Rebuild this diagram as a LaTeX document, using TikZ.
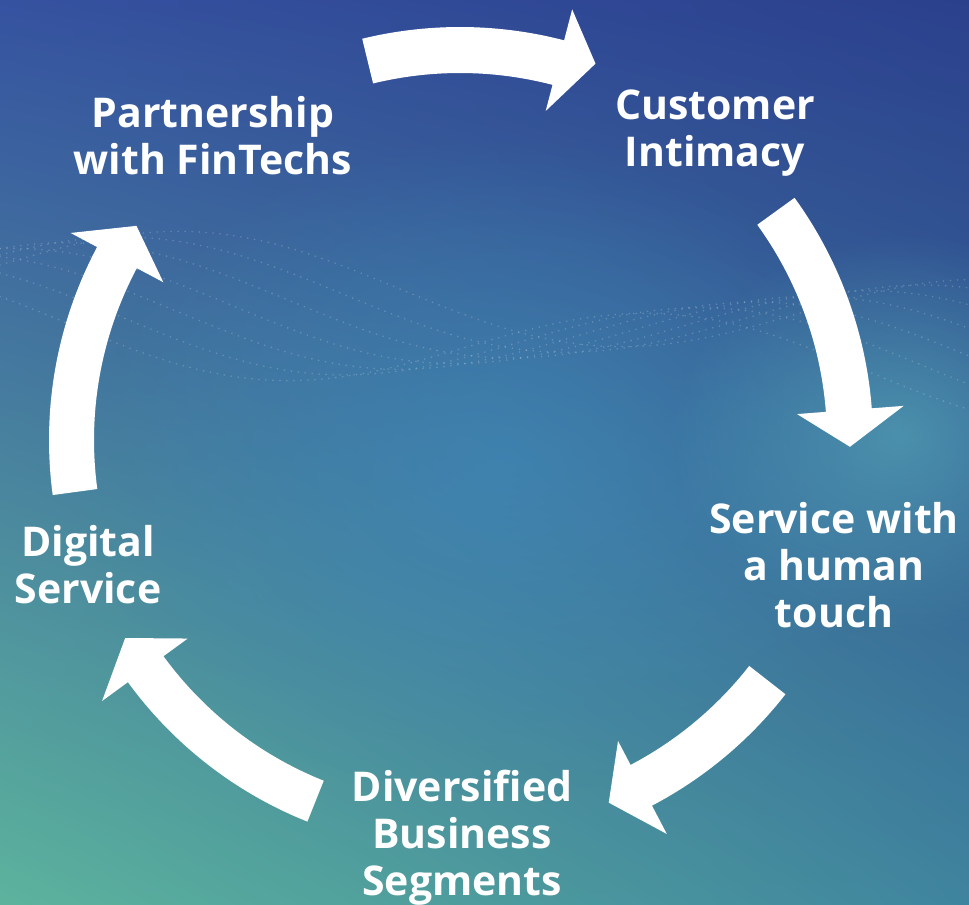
\documentclass[tikz,border=0pt]{standalone}
\usepackage{fontspec}
\setmainfont{Open Sans}
\usetikzlibrary{fadings, shadings}

\definecolor{bgtopleft}{HTML}{3552A0}
\definecolor{bgtopright}{HTML}{2B408D}
\definecolor{bgbotleft}{HTML}{5CB39D}
\definecolor{bgbotright}{HTML}{3F849E}
\definecolor{glowblue}{HTML}{3F8BBA}
\definecolor{glowteal}{HTML}{56A9B8}

\tikzfading[name=softglow, inner color=transparent!35, outer color=transparent!100]

\tikzset{
  steplabel/.style={text=white, align=center, inner sep=0pt,
    font=\bfseries\fontsize{41bp}{47bp}\selectfont},
  cyclearrow/.style={fill=white},
  wavedots/.style={white, opacity=.2, line width=1.8bp, line cap=round,
    dash pattern=on 0bp off 7bp}
}

\begin{document}
\begin{tikzpicture}[x=1bp, y=1bp]
\useasboundingbox (0,0) rectangle (969,905);
% background
\begin{scope}
\clip (0,0) rectangle (969,905);
\shade[upper left=bgtopleft, upper right=bgtopright,
       lower left=bgbotleft, lower right=bgbotright] (0,0) rectangle (969,905);
\fill[glowblue, path fading=softglow] (500,440) ellipse (420 and 330);
\fill[glowteal, path fading=softglow] (900,470) ellipse (230 and 200);
% dotted wave across the top
\foreach \k in {0,...,6}
  \draw[wavedots] plot[domain=0:969, samples=80]
    (\x, {640 - 9*\k - 0.06*\x + 45*sin(0.45*\x + 25*\k)});
\end{scope}

% cycle arrows round the centre
\coordinate (hub) at (460,465);
\begin{scope}[shift={(hub)}]
\fill[cyclearrow] (103.7:413) arc[start angle=103.7, end angle=75.4, radius=413]
  -- (75.4:445) -- (70.2:400) -- (75.4:340) -- (75.4:367)
  arc[start angle=75.4, end angle=103.7, radius=367] -- cycle;
\fill[cyclearrow] (35.9:413) arc[start angle=35.9, end angle=4.4, radius=413]
  -- (4.4:445) -- (-1.0:390) -- (4.4:338) -- (4.4:367)
  arc[start angle=4.4, end angle=35.9, radius=367] -- cycle;
\fill[cyclearrow] (-38.0:413) arc[start angle=-38.0, end angle=-62.3, radius=413]
  -- (-62.3:445) -- (-67.7:392) -- (-62.3:340) -- (-62.3:367)
  arc[start angle=-62.3, end angle=-38.0, radius=367] -- cycle;
\fill[cyclearrow] (248.2:411) arc[start angle=248.2, end angle=216.1, radius=411]
  -- (216.1:443) -- (210.6:389) -- (216.1:337) -- (216.1:367)
  arc[start angle=216.1, end angle=248.2, radius=367] -- cycle;
\fill[cyclearrow] (187.7:411) arc[start angle=187.7, end angle=152.0, radius=411]
  -- (152.0:441) -- (146.5:388) -- (152.0:336) -- (152.0:366)
  arc[start angle=152.0, end angle=187.7, radius=366] -- cycle;
\end{scope}

% steps
\node[steplabel] (partner) at (213,769) {Partnership\\with FinTechs};
\node[steplabel] (intimacy) at (715,772) {Customer\\Intimacy};
\node[steplabel] (touch) at (834,340) {Service with\\a human\\touch};
\node[steplabel] (digital) at (88,340) {Digital\\Service};
\node[steplabel] (segments) at (462,67) {Diversified\\Business\\Segments};
\end{tikzpicture}
\end{document}
